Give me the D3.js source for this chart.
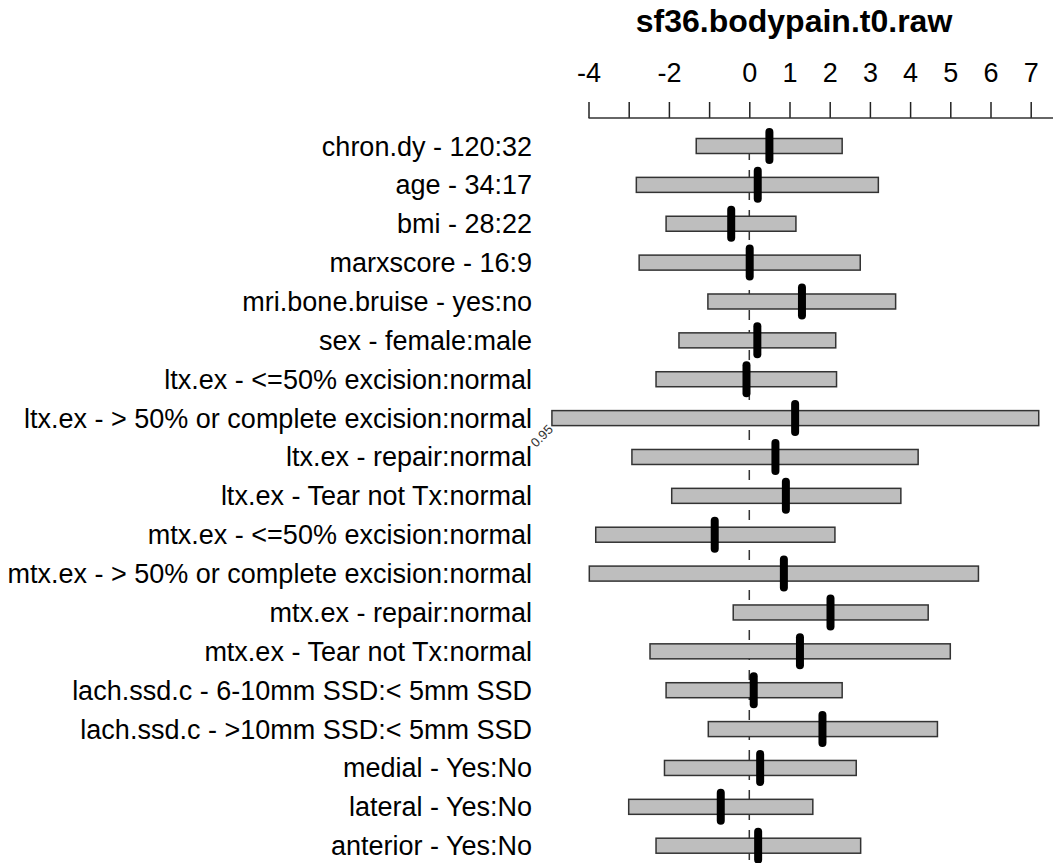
<!DOCTYPE html>
<html>
<head>
<meta charset="utf-8">
<script src="https://cdn.jsdelivr.net/npm/d3@7/dist/d3.min.js"></script>
<style>
	body { margin: 0; background: #fff; }
	svg { display: block; font-family: "Liberation Sans", Arial, sans-serif; }
</style>
</head>
<body>
<svg id="chart" width="1053" height="863"></svg>
<script>
"use strict";

// one row per effect, top to bottom
var labels = [
	"chron.dy - 120:32",
	"age - 34:17",
	"bmi - 28:22",
	"marxscore - 16:9",
	"mri.bone.bruise - yes:no",
	"sex - female:male",
	"ltx.ex - <=50% excision:normal",
	"ltx.ex - > 50% or complete excision:normal",
	"ltx.ex - repair:normal",
	"ltx.ex - Tear not Tx:normal",
	"mtx.ex - <=50% excision:normal",
	"mtx.ex - > 50% or complete excision:normal",
	"mtx.ex - repair:normal",
	"mtx.ex - Tear not Tx:normal",
	"lach.ssd.c - 6-10mm SSD:< 5mm SSD",
	"lach.ssd.c - >10mm SSD:< 5mm SSD",
	"medial - Yes:No",
	"lateral - Yes:No",
	"anterior - Yes:No"
];
var effect = [0.50, 0.21, -0.45, 0.01, 1.31, 0.20, -0.07, 1.14, 0.65, 0.91,
	-0.86, 0.86, 2.02, 1.26, 0.11, 1.82, 0.27, -0.71, 0.22];
var lower = [-1.32, -2.81, -2.07, -2.74, -1.03, -1.75, -2.32, -4.91, -2.92, -1.93,
	-3.82, -3.98, -0.40, -2.47, -2.07, -1.02, -2.11, -3.00, -2.32];
var upper = [2.31, 3.21, 1.16, 2.76, 3.64, 2.15, 2.17, 7.20, 4.20, 3.77,
	2.13, 5.70, 4.45, 5.00, 2.31, 4.68, 2.66, 1.58, 2.77];

var tickValues = [-4, -3, -2, -1, 0, 1, 2, 3, 4, 5, 6, 7];
var tickLabels = ["-4", "", "-2", "", "0", "1", "2", "3", "4", "5", "6", "7"];
var title = "sf36.bodypain.t0.raw";
var confLevel = "0.95";

var width = 1053, height = 863;
var axisY = 118;

function draw() {
	var svg = d3.select("#chart");

	var x = d3.scaleLinear()
		.domain([-4, 7])
		.range([588.5, 1030.7]);
	var y = d3.scalePoint()
		.domain(labels)
		.range([146, 845.7]);

	var rows = labels.map((lab, i)=>({label: lab, est: effect[i], lo: lower[i], hi: upper[i]}));

	// title, centred over the plot region
	svg.append("text")
		.attr("x", 794)
		.attr("y", 32)
		.attr("text-anchor", "middle")
		.style("font-weight", "bold")
		.style("font-size", "32px")
		.text(title);

	// axis on top
	var axis = d3.axisTop(x)
		.tickValues(tickValues)
		.tickSize(16)
		.tickPadding(20)
		.tickFormat((d, i)=>tickLabels[i]);
	var g = svg.append("g")
		.attr("transform", `translate(0, ${axisY})`)
		.call(axis);
	g.select(".domain").remove();
	g.selectAll(".tick line").attr("stroke", "#222").attr("stroke-width", 1.5);
	g.selectAll(".tick text")
		.attr("fill", "#000")
		.style("font-size", "27px")
		.style("font-family", "\"Liberation Sans\", Arial, sans-serif");
	g.append("line")
		.attr("x1", x(-4))
		.attr("x2", width)
		.attr("y1", 0)
		.attr("y2", 0)
		.attr("stroke", "#333")
		.attr("stroke-width", 1.5);

	// reference line at zero
	svg.append("line")
		.attr("x1", x(0))
		.attr("x2", x(0))
		.attr("y1", 150)
		.attr("y2", height)
		.attr("stroke", "#333")
		.attr("stroke-width", 1.5)
		.attr("stroke-dasharray", "10,10");

	// row labels
	svg.append("g")
		.selectAll("text")
		.data(rows)
		.enter()
		.append("text")
		.attr("x", 532)
		.attr("y", d=>y(d.label) + 9.5)
		.attr("text-anchor", "end")
		.style("font-size", "27px")
		.text(d=>d.label);

	// interval boxes
	svg.append("g")
		.selectAll("rect")
		.data(rows)
		.enter()
		.append("rect")
		.attr("x", d=>x(d.lo))
		.attr("y", d=>y(d.label) - 7.5)
		.attr("width", d=>x(d.hi) - x(d.lo))
		.attr("height", 15)
		.attr("fill", "#bebebe")
		.attr("stroke", "#333")
		.attr("stroke-width", 1.5);

	// point estimates
	svg.append("g")
		.selectAll("line")
		.data(rows)
		.enter()
		.append("line")
		.attr("x1", d=>x(d.est))
		.attr("x2", d=>x(d.est))
		.attr("y1", d=>y(d.label) - 14)
		.attr("y2", d=>y(d.label) + 14)
		.attr("stroke", "#000")
		.attr("stroke-width", 8)
		.attr("stroke-linecap", "round");

	// confidence level, tucked under the widest box
	var widest = rows.reduce((a, b)=>(b.hi - b.lo > a.hi - a.lo ? b : a));
	var cx = x(widest.lo) - 16, cy = y(widest.label) + 30;
	svg.append("text")
		.attr("transform", `translate(${cx}, ${cy}) rotate(-45)`)
		.style("font-size", "13px")
		.attr("fill", "#333")
		.text(confLevel);
}

draw();
</script>
</body>
</html>
